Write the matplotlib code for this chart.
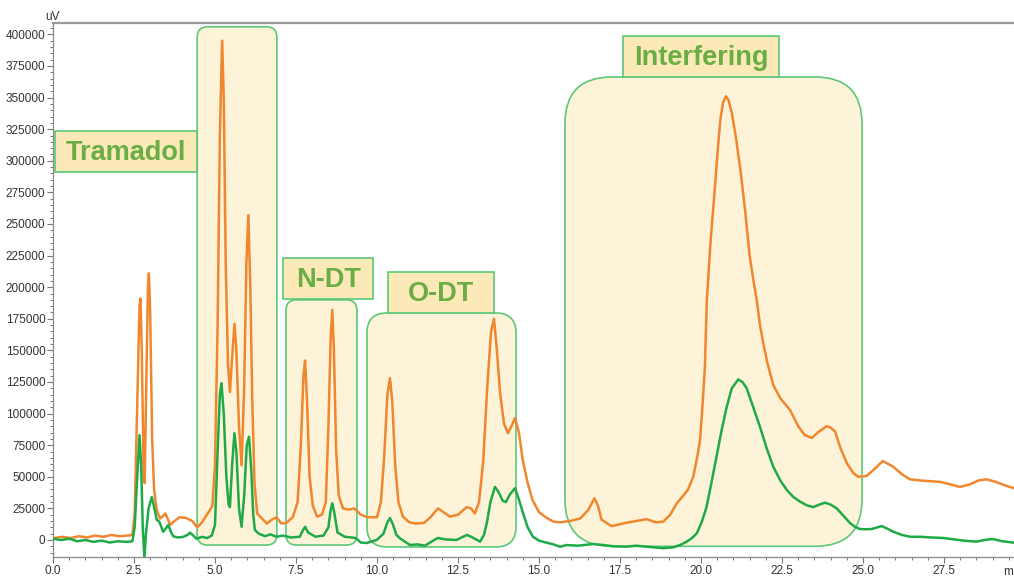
import matplotlib.pyplot as plt
from matplotlib.patches import FancyBboxPatch, Rectangle
from matplotlib.ticker import MultipleLocator, FormatStrFormatter

plt.rcParams['font.family'] = ['Liberation Sans', 'DejaVu Sans']

# Retention time (min) and detector response (uV), upper trace
orange_t = [
    0.00, 0.30, 0.55, 0.80, 1.05, 1.30, 1.55, 1.80, 2.05, 2.30, 2.45, 2.52,
    2.60, 2.67, 2.70, 2.74, 2.80, 2.83, 2.87, 2.93, 2.96, 3.00, 3.06, 3.12,
    3.20, 3.30, 3.40, 3.47, 3.55, 3.62, 3.75, 3.90, 4.10, 4.30, 4.45, 4.60,
    4.80, 4.92, 5.00, 5.08, 5.15, 5.22, 5.27, 5.33, 5.40, 5.46, 5.53, 5.60,
    5.66, 5.74, 5.82, 5.90, 5.97, 6.03, 6.09, 6.15, 6.22, 6.30, 6.45, 6.60,
    6.75, 6.90, 7.05, 7.20, 7.40, 7.55, 7.65, 7.73, 7.78, 7.84, 7.92, 8.02,
    8.15, 8.30, 8.42, 8.50, 8.57, 8.62, 8.67, 8.74, 8.82, 8.95, 9.15, 9.30,
    9.50, 9.70, 10.00, 10.12, 10.22, 10.32, 10.40, 10.47, 10.56, 10.66,
    10.80, 11.00, 11.20, 11.45, 11.65, 11.88, 12.05, 12.25, 12.50, 12.77,
    12.90, 13.02, 13.15, 13.28, 13.40, 13.52, 13.61, 13.70, 13.80, 13.92,
    14.04, 14.15, 14.26, 14.38, 14.50, 14.65, 14.80, 15.00, 15.24, 15.45,
    15.65, 15.95, 16.27, 16.52, 16.71, 16.82, 16.93, 17.24, 17.50, 17.71,
    18.00, 18.32, 18.60, 18.83, 19.05, 19.25, 19.45, 19.60, 19.76, 19.90,
    19.97, 20.05, 20.12, 20.18, 20.30, 20.43, 20.52, 20.60, 20.68, 20.77,
    20.85, 20.95, 21.08, 21.22, 21.36, 21.50, 21.62, 21.72, 21.82, 21.92,
    22.05, 22.23, 22.45, 22.75, 23.00, 23.20, 23.42, 23.65, 23.88, 24.00,
    24.14, 24.30, 24.50, 24.70, 24.85, 25.11, 25.35, 25.61, 25.93, 26.20,
    26.45, 26.80, 27.10, 27.38, 27.70, 27.99, 28.30, 28.55, 28.80, 29.10,
    29.40, 29.66,
]
orange_uv = [
    1500, 2500, 1500, 3000, 2000, 3500, 2500, 4000, 3000, 3500, 4000, 20000,
    110000, 185000, 191000, 150000, 50000, 45000, 110000, 200000, 211000, 180000, 80000, 40000,
    24000, 17000, 19000, 21000, 16000, 12000, 15000, 18000, 17500, 15000, 10000, 14000,
    22000, 27000, 60000, 170000, 320000, 395000, 350000, 220000, 140000, 117000, 145000, 171000,
    150000, 90000, 59000, 120000, 220000, 257000, 200000, 110000, 45000, 21000, 17000, 13000,
    16000, 18000, 13000, 13500, 18000, 30000, 75000, 130000, 142000, 110000, 50000, 27000,
    18500, 20000, 30000, 90000, 160000, 182000, 150000, 70000, 35000, 25000, 24000, 25000,
    20000, 18000, 18000, 30000, 65000, 115000, 128000, 110000, 60000, 30000,
    18500, 14000, 13000, 13500, 18000, 25000, 22000, 18500, 20000, 26000,
    25000, 21000, 30000, 63000, 120000, 165000, 175000, 150000, 116000, 92000,
    84500, 90000, 96500, 85000, 63000, 45000, 31600, 22000, 17400, 14500,
    14000, 15000, 17000, 23700, 33000, 27000, 16000, 11000, 12500, 13700,
    15000, 16500, 14000, 14500, 20000, 29000, 35000, 40000, 50000, 68000,
    79000, 108000, 137000, 190000, 238000, 279000, 310000, 333000, 346000, 351000,
    348000, 338000, 318000, 292000, 261000, 225000, 205000, 190000, 170000, 156000,
    140000, 122600, 112000, 102800, 90000, 83000, 80700, 86000, 90000, 89000,
    85700, 73000, 60800, 53000, 50000, 50700, 56000, 62500, 58000, 52000,
    48000, 47000, 46500, 46000, 44000, 42000, 44000, 47000, 48000, 46000,
    43000, 41000,
]

# Retention time (min) and detector response (uV), lower trace
green_t = [
    0.00, 0.25, 0.50, 0.75, 1.00, 1.25, 1.50, 1.75, 2.00, 2.25, 2.45, 2.52,
    2.60, 2.67, 2.72, 2.77, 2.82, 2.87, 2.95, 3.05, 3.13, 3.20, 3.28, 3.40,
    3.48, 3.56, 3.63, 3.71, 3.85, 4.01, 4.15, 4.23, 4.33, 4.43, 4.60, 4.75,
    4.90, 5.00, 5.08, 5.15, 5.20, 5.27, 5.35, 5.42, 5.46, 5.53, 5.60, 5.66,
    5.74, 5.82, 5.90, 5.98, 6.05, 6.12, 6.18, 6.23, 6.35, 6.55, 6.70, 6.90,
    7.10, 7.35, 7.62, 7.70, 7.78, 7.87, 8.10, 8.35, 8.50, 8.57, 8.62, 8.68,
    8.78, 9.00, 9.34, 9.50, 9.68, 9.99, 10.20, 10.32, 10.40, 10.48, 10.60,
    10.70, 11.02, 11.25, 11.48, 11.70, 11.88, 12.10, 12.45, 12.65, 12.78,
    12.95, 13.18, 13.30, 13.39, 13.50, 13.64, 13.75, 13.88, 13.98, 14.10,
    14.26, 14.38, 14.51, 14.65, 14.81, 15.00, 15.23, 15.45, 15.65, 15.85,
    16.20, 16.67, 17.00, 17.30, 17.70, 18.00, 18.40, 18.83, 19.14, 19.35,
    19.56, 19.72, 19.87, 20.02, 20.17, 20.32, 20.48, 20.63, 20.79, 20.95,
    21.15, 21.28, 21.41, 21.60, 21.82, 22.02, 22.23, 22.45, 22.65, 22.85,
    23.06, 23.26, 23.46, 23.65, 23.83, 24.00, 24.19, 24.40, 24.60, 24.75,
    24.90, 25.10, 25.27, 25.45, 25.58, 25.75, 25.93, 26.20, 26.45, 26.80,
    27.10, 27.47, 27.80, 28.10, 28.50, 28.75, 29.00, 29.30, 29.66,
]
green_uv = [
    1000, 0, 1000, -1000, 0, -1500, -500, -2000, -1000, -1500, -1000, 10000,
    50000, 83000, 60000, 10000, -14000, 5000, 25000, 34000, 25000, 16000, 14500, 6500,
    9000, 12000, 7000, 3000, 2000, 2400, 4000, 5800, 3500, 1000, 2500, 1500,
    3500, 12000, 70000, 115000, 124000, 100000, 50000, 28000, 26000, 60000, 84500, 70000,
    25000, 10500, 35000, 75000, 81700, 55000, 20000, 8000, 5000, 3000, 4500, 2600,
    3500, 2000, 2600, 7000, 10500, 6000, 2600, 3500, 10000, 24000, 29000, 22000,
    6000, 2600, 1600, -2000, -2400, 0, 5000, 14000, 17400, 13000, 4000,
    1500, -4000, -3500, -4500, -1000, 1600, 500, 0, 2500, 4000,
    2000, -1300, 4000, 13400, 30000, 42000, 38000, 31000, 30000, 36000,
    41000, 32000, 21000, 10000, 2600, -500, -2100, -3500, -5300, -4000,
    -4500, -3200, -4000, -5000, -5300, -4500, -5500, -6500, -5800, -4000,
    -1300, 1500, 5300, 14000, 26000, 45000, 66000, 86000, 105000, 120000,
    127000, 125000, 120000, 106000, 89600, 73000, 58000, 47000, 39500, 34000,
    30300, 27500, 26000, 28000, 29500, 28000, 25000, 19000, 13400, 10500,
    8700, 8500, 8700, 10000, 11000, 9000, 6600, 4000, 2600, 2500,
    2000, 1600, 500, -500, -1300, 0, 800, -1000, -2100,
]

# Peak groups: label, frame (t0, t1, uV0, uV1), corner radius (min),
# label box (t0, t1, uV0, uV1)
group_names = ['Tramadol', 'N-DT', 'O-DT', 'Interfering']
group_frames = [
    (4.45, 6.91, -4000, 406000),
    (7.19, 9.38, -4000, 190000),
    (9.69, 14.29, -5500, 179600),
    (15.80, 24.97, -5000, 366300),
]
group_radius = [0.32, 0.32, 0.62, 1.45]
label_boxes = [
    (0.06, 4.45, 291100, 323600),
    (7.10, 9.88, 190700, 223100),
    (10.34, 13.61, 179600, 212000),
    (17.59, 22.41, 366300, 398700),
]

W, H = 1014, 579
fig = plt.figure(figsize=(W / 100, H / 100), dpi=100)
ax = fig.add_axes([53 / W, 22 / H, 1 - 53 / W, (557 - 23) / H])
ax.set_xlim(0, 29.66)
ax.set_ylim(-13450, 409000)

# aspect between the two data units, so frame corners stay circular
p0 = ax.transData.transform((0, 0))
p1 = ax.transData.transform((1, 1))
aspect = (p1[0] - p0[0]) / (p1[1] - p0[1])

frame_edge = '#5CC878'
for (t0, t1, u0, u1), r in zip(group_frames, group_radius):
    ax.add_patch(FancyBboxPatch(
        (t0, u0), t1 - t0, u1 - u0,
        boxstyle=f'round,pad=0,rounding_size={r}',
        mutation_aspect=aspect, fc='#FDF3D8', ec=frame_edge, lw=1.2,
        zorder=1))

ax.plot(orange_t, orange_uv, color='#F0872F', lw=1.8, zorder=3)
ax.plot(green_t, green_uv, color='#1EAA47', lw=1.8, zorder=4)

for name, (t0, t1, u0, u1) in zip(group_names, label_boxes):
    ax.add_patch(Rectangle((t0, u0), t1 - t0, u1 - u0, fc='#FCE9B8',
                           ec=frame_edge, lw=1.2, zorder=5))
    ax.text((t0 + t1) / 2, (u0 + u1) / 2 - 1500, name, ha='center',
            va='center', fontsize=19.5, fontweight='bold', color='#69AD45',
            zorder=6)

ax.xaxis.set_major_locator(MultipleLocator(2.5))
ax.xaxis.set_minor_locator(MultipleLocator(0.5))
ax.xaxis.set_major_formatter(FormatStrFormatter('%.1f'))
ax.yaxis.set_major_locator(MultipleLocator(25000))
ax.yaxis.set_minor_locator(MultipleLocator(5000))
ax.yaxis.set_major_formatter(FormatStrFormatter('%d'))

ax.tick_params(which='both', direction='out', color='#777777',
               labelsize=8.5, labelcolor='#333333')
ax.tick_params(which='major', length=4, width=0.8, pad=1.5)
ax.tick_params(which='minor', length=2.2, width=0.7)

ax.spines['right'].set_visible(False)
ax.spines['top'].set_color('#999999')
ax.spines['top'].set_linewidth(1.6)
for side in ('left', 'bottom'):
    ax.spines[side].set_color('#888888')
    ax.spines[side].set_linewidth(0.9)

fig.text(52 / W, 1 - 17 / H, 'uV', ha='center', va='center',
         fontsize=8.5, color='#333333')
fig.text(1008 / W, 1 - 572 / H, 'm', ha='center', va='center',
         fontsize=8.5, color='#333333')

fig.savefig('out.png', dpi=100)
